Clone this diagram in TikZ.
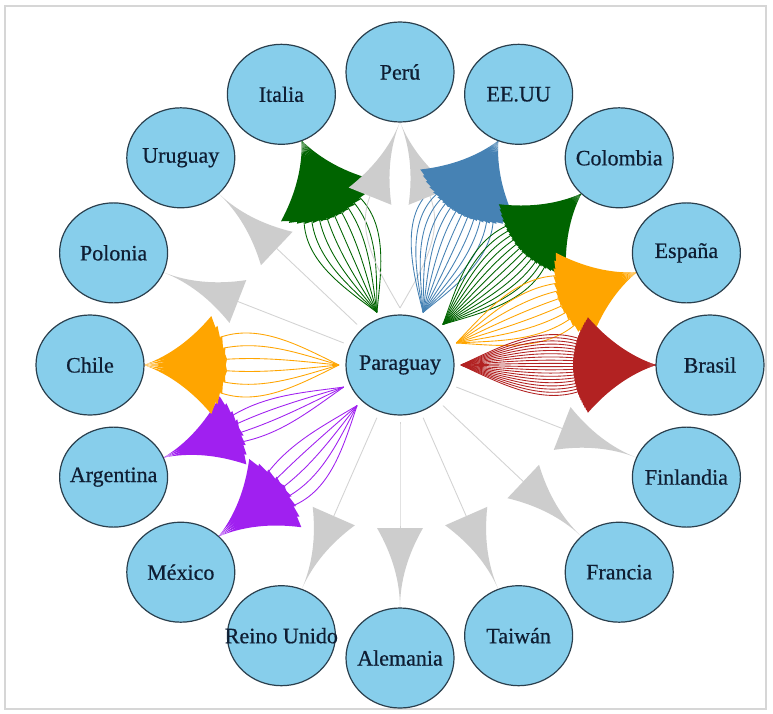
\documentclass[tikz,border=0pt]{standalone}
\usepackage{fontspec}
\setmainfont{Liberation Serif}
\newfontfamily\lblfont{Liberation Serif}[FakeBold=0.6]
\usetikzlibrary{shapes.geometric}
\definecolor{nodefill}{HTML}{87CEEB}
\definecolor{nodeline}{HTML}{2A3F4D}
\definecolor{labeltext}{HTML}{0F1E33}
\definecolor{dgreen}{HTML}{006400}
\definecolor{sblue}{HTML}{4682B4}
\definecolor{orng}{HTML}{FFA500}
\definecolor{fbrick}{HTML}{B22222}
\definecolor{purp}{HTML}{A020F0}
\definecolor{agray}{HTML}{CDCDCD}
\definecolor{lgray}{HTML}{D3D3D3}
\definecolor{framegray}{HTML}{D6D6D6}

% geometry of edge #5 (0-based) of a group: target index #1, #2 edges, angle spread #3..#4
\newcommand\EdgeGeom[5]{%
  \pgfmathsetmacro\gAng{(#1)*22.5}%
  \pgfmathsetmacro\gNx{400+310*sin(\gAng)}%
  \pgfmathsetmacro\gNy{365-293*cos(\gAng)}%
  \pgfmathsetmacro\gTh{atan2((\gNy)-365,(\gNx)-400)}%
  \pgfmathsetmacro\gR{2700/veclen(50*cos(\gTh),54*sin(\gTh))}%
  \pgfmathsetmacro\gSx{400+((\gR)+7)*cos(\gTh)}%
  \pgfmathsetmacro\gSy{365+((\gR)+7)*sin(\gTh)}%
  \pgfmathsetmacro\gTx{(\gNx)-(\gR)*cos(\gTh)}%
  \pgfmathsetmacro\gTy{(\gNy)-(\gR)*sin(\gTh)}%
  \pgfmathsetmacro\gPh{(#3)+((#4)-(#3))*(#5)/max((#2)-1,1)}%
  \pgfmathsetmacro\gBe{(\gTh)+(\gPh)}%
  \pgfmathsetmacro\gUx{cos(\gBe)}%
  \pgfmathsetmacro\gUy{sin(\gBe)}%
  \pgfmathsetmacro\gEx{(\gTx)-80*(\gUx)}%
  \pgfmathsetmacro\gEy{(\gTy)-80*(\gUy)}%
  \pgfmathsetmacro\gGa{atan2((\gEy)-(\gSy),(\gEx)-(\gSx))}%
  \pgfmathsetmacro\gD{veclen((\gEx)-(\gSx),(\gEy)-(\gSy))}%
  \pgfmathsetmacro\gDe{mod((\gBe)-(\gGa)+540,360)-180}%
  \pgfmathsetmacro\gSi{(\gGa)-0.4*(\gDe)}%
  \pgfmathsetmacro\gAx{(\gSx)+0.35*(\gD)*cos(\gSi)}%
  \pgfmathsetmacro\gAy{(\gSy)+0.35*(\gD)*sin(\gSi)}%
  \pgfmathsetmacro\gBx{(\gEx)-0.35*(\gD)*(\gUx)}%
  \pgfmathsetmacro\gBy{(\gEy)-0.35*(\gD)*(\gUy)}%
}

\begin{document}
\begin{tikzpicture}[x=0.75pt,y=-0.75pt,
  country/.style={ellipse,draw=nodeline,line width=0.9pt,fill=nodefill,
    minimum width=81pt,minimum height=75pt,inner sep=0pt,text=labeltext,
    font=\lblfont\fontsize{16.5}{18}\selectfont},
  edgeline/.style={line width=0.65pt},
  headshape/.style={draw=none}]
\useasboundingbox (0,0) rectangle (773,713);
\fill[white] (0,0) rectangle (773,713);
\draw[framegray,line width=1.4pt] (5,6) rectangle (766,709);

% edge lines (all below the heads)
\foreach \k/\n/\fa/\fb/\lc/\hc in {
  15/9/-22/22/dgreen/dgreen, 0/2/-22/22/lgray/agray, 1/12/-20/30/sblue/sblue,
  2/12/-20/20/dgreen/dgreen, 3/8/-19/19/orng/orng, 4/20/-19/19/fbrick/fbrick,
  5/1/0/0/lgray/agray, 6/1/0/0/lgray/agray, 7/1/0/0/lgray/agray,
  8/1/0/0/lgray/agray, 9/1/0/0/lgray/agray, 10/5/-9/21/purp/purp,
  11/4/-10/10/purp/purp, 12/6/-20/20/orng/orng, 13/1/0/0/lgray/agray,
  14/1/0/0/lgray/agray}{
  \foreach \i in {1,...,\n}{
    \EdgeGeom{\k}{\n}{\fa}{\fb}{\i-1}
    \coordinate (src-\k) at (\gSx,\gSy);
    \coordinate (base-\k-\i) at (\gEx,\gEy);
    \draw[edgeline,\lc] (src-\k) .. controls (\gAx,\gAy) and (\gBx,\gBy) .. (base-\k-\i);
  }
}

% arrow heads, in drawing order
\foreach \k/\n/\fa/\fb/\lc/\hc in {
  15/9/-22/22/dgreen/dgreen, 0/2/-22/22/lgray/agray, 1/12/-20/30/sblue/sblue,
  2/12/-20/20/dgreen/dgreen, 3/8/-19/19/orng/orng, 4/20/-19/19/fbrick/fbrick,
  5/1/0/0/lgray/agray, 6/1/0/0/lgray/agray, 7/1/0/0/lgray/agray,
  8/1/0/0/lgray/agray, 9/1/0/0/lgray/agray, 10/5/-9/21/purp/purp,
  11/4/-10/10/purp/purp, 12/6/-20/20/orng/orng, 13/1/0/0/lgray/agray,
  14/1/0/0/lgray/agray}{
  \foreach \i in {1,...,\n}{
    \EdgeGeom{\k}{\n}{\fa}{\fb}{\i-1}
    \coordinate (tip-\k) at (\gTx,\gTy);
    \fill[headshape,\hc] (tip-\k)
      .. controls ({(\gTx)-80/3*(\gUx)},{(\gTy)-80/3*(\gUy)})
         and ({(\gTx)-160/3*(\gUx)-23/3*(\gUy)},{(\gTy)-160/3*(\gUy)+23/3*(\gUx)})
      .. ({(\gTx)-80*(\gUx)-23*(\gUy)},{(\gTy)-80*(\gUy)+23*(\gUx)})
      -- ({(\gTx)-80*(\gUx)+23*(\gUy)},{(\gTy)-80*(\gUy)-23*(\gUx)})
      .. controls ({(\gTx)-160/3*(\gUx)+23/3*(\gUy)},{(\gTy)-160/3*(\gUy)-23/3*(\gUx)})
         and ({(\gTx)-80/3*(\gUx)},{(\gTy)-80/3*(\gUy)})
      .. (tip-\k) -- cycle;
  }
}

% vertices
\node[country] (paraguay) at (400,365) {\makebox[0pt]{Paraguay}};
\foreach \k/\nm/\lab in {0/peru/Perú, 1/eeuu/EE.UU, 2/colombia/Colombia,
  3/espana/España, 4/brasil/Brasil, 5/finlandia/Finlandia, 6/francia/Francia,
  7/taiwan/Taiwán, 8/alemania/Alemania, 9/reino/Reino Unido, 10/mexico/México,
  11/argentina/Argentina, 12/chile/Chile, 13/polonia/Polonia,
  14/uruguay/Uruguay, 15/italia/Italia}{
  \node[country] (\nm) at ({400+310*sin(\k*22.5)},{365-293*cos(\k*22.5)}) {\makebox[0pt]{\lab}};
}
\end{tikzpicture}
\end{document}
